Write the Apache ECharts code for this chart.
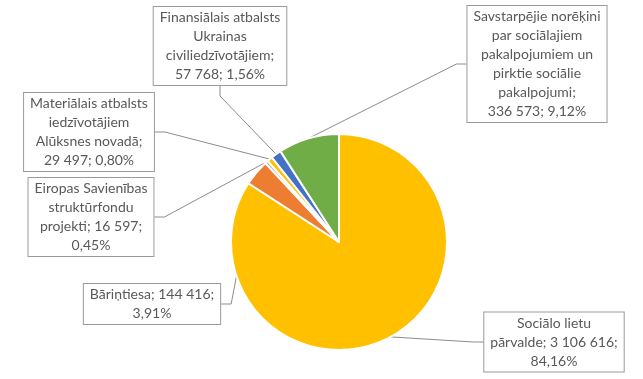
<!DOCTYPE html>
<html>
<head>
<meta charset="utf-8">
<script src="https://cdn.jsdelivr.net/npm/echarts@6/dist/echarts.min.js"></script>
<style>
html,body{margin:0;padding:0;background:#fff;}
#main{width:643px;height:379px;}
</style>
</head>
<body>
<div id="main"></div>
<script>
// Data
const categories = [
  "Sociālo lietu\npārvalde",
  "Bāriņtiesa",
  "Eiropas Savienības\nstruktūrfondu\nprojekti",
  "Materiālais atbalsts\niedzīvotājiem\nAlūksnes novadā",
  "Finansiālais atbalsts\nUkrainas\nciviliedzīvotājiem",
  "Savstarpējie norēķini\npar sociālajiem\npakalpojumiem un\npirktie sociālie\npakalpojumi"
];
const values = [3106616, 144416, 16597, 29497, 57768, 336573];
const colors = ["#FFC000", "#ED7D31", "#A5A5A5", "#FFC000", "#4472C4", "#70AD47"];

// label box centres (layout)
const labelCentres = [
  [554, 342],
  [152, 304],
  [91, 217],
  [89, 132],
  [220, 46],
  [537, 64]
];

function fmtNum(v){
  return String(v).replace(/\B(?=(\d{3})+(?!\d))/g, ' ');
}
function fmtLabel(p){
  const name = p.name;
  const num = fmtNum(p.value);
  const pct = p.percent.toFixed(2).replace('.', ',') + '%';
  switch(p.dataIndex){
    case 0: return 'Sociālo lietu\npārvalde; ' + num + ';\n' + pct;
    case 1: return 'Bāriņtiesa; ' + num + ';\n' + pct;
    case 2: return 'Eiropas Savienības\nstruktūrfondu\nprojekti; ' + num + ';\n' + pct;
    default: return name + ';\n' + num + '; ' + pct;
  }
}

const chart = echarts.init(document.getElementById('main'), null, {renderer:'canvas'});
chart.setOption({
  backgroundColor: '#ffffff',
  animation: false,
  series: [{
    type: 'pie',
    center: [339, 242],
    radius: [0, 108],
    startAngle: 90,
    clockwise: true,
    percentPrecision: 2,
    data: categories.map((c, i) => ({name: c, value: values[i], itemStyle: {color: colors[i]}})),
    itemStyle: {borderColor: '#ffffff', borderWidth: 2},
    label: {
      show: true,
      formatter: fmtLabel,
      fontFamily: 'Lato, "Open Sans", sans-serif',
      fontSize: 14,
      lineHeight: 19,
      color: '#595959',
      align: 'center',
      backgroundColor: '#ffffff',
      borderColor: '#9A9A9A',
      borderWidth: 1,
      padding: [1, 6, 1, 6]
    },
    labelLine: {
      show: true,
      length: 10,
      length2: 10,
      lineStyle: {color: '#8C8C8C', width: 1}
    },
    labelLayout: function(params){
      const c = labelCentres[params.dataIndex];
      return {x: c[0], y: c[1], align: 'center', verticalAlign: 'middle'};
    }
  }]
});
</script>
</body>
</html>
